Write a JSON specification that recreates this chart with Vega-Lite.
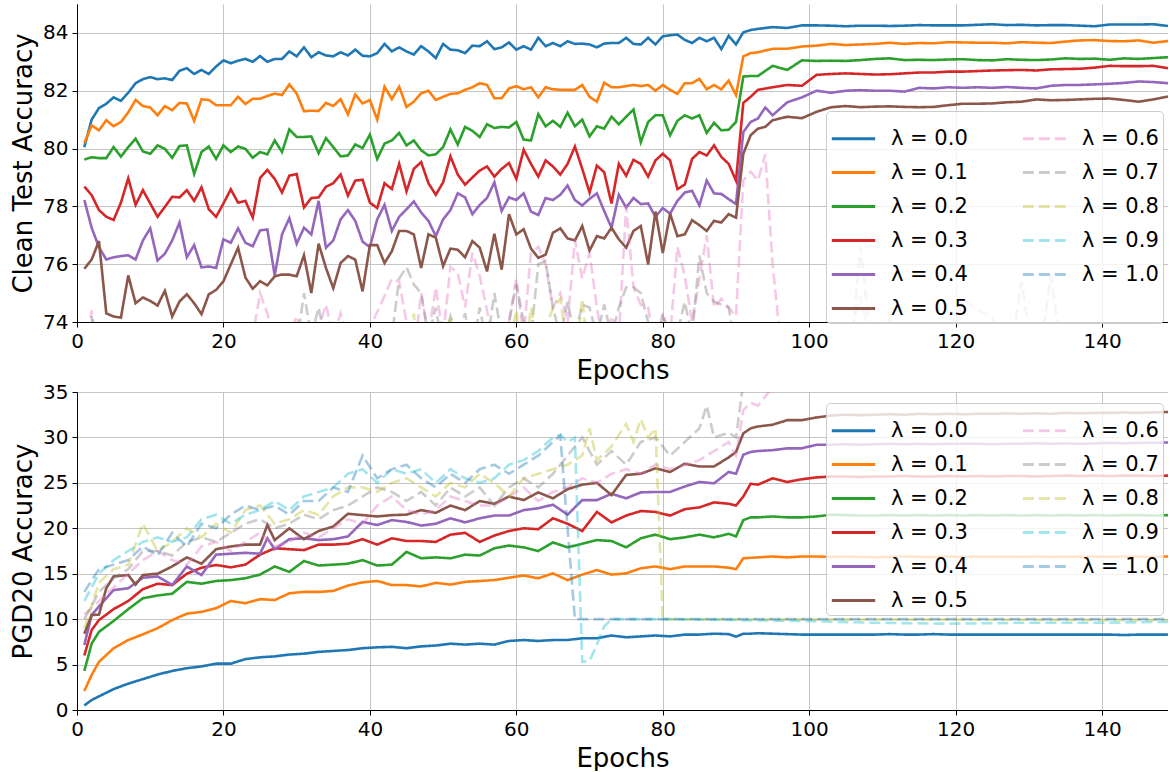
{
"$schema":"https://vega.github.io/schema/vega-lite/v6.json",
"padding":{"left":10,"top":4,"right":0,"bottom":0},
"spacing":70,
"bounds":"flush",
"config":{
"font":"DejaVu Sans",
"view":{"stroke":null},
"axis":{"labelFontSize":20,"titleFontSize":26,"titleFontWeight":"normal","labelColor":"#000","titleColor":"#000","domainColor":"#000","tickColor":"#000","tickSize":5,"domainWidth":1,"tickWidth":1,"gridColor":"#c4c4c4","gridWidth":1,"labelPadding":4,"titlePadding":6,"labelFlush":false},
"legend":{"orient":"none","columns":2,"symbolType":"stroke","symbolStrokeWidth":3,"symbolSize":1880,"labelFontSize":21,"labelColor":"#000","fillColor":"rgba(255,255,255,0.8)","strokeColor":"#cccccc","cornerRadius":4,"padding":4,"rowPadding":0,"columnPadding":48,"labelOffset":14,"labelLimit":300}
},
"datasets":{
"top":[
{"ep":1,"a":80.05,"b":80.19,"c":79.62,"d":78.68,"e":78.22,"f":75.84,"g":72.5,"h":72.5,"i":70},
{"ep":2,"a":81.0,"b":80.8,"c":79.7,"d":78.39,"e":77.26,"f":76.16,"g":74.4,"h":74.2},
{"ep":3,"a":81.4,"b":80.63,"c":79.67,"d":77.87,"e":76.59,"f":76.8,"g":72.5,"h":72},
{"ep":4,"a":81.55,"b":80.98,"c":79.67,"d":77.64,"e":76.16,"f":74.3},
{"ep":5,"a":81.77,"b":80.77,"c":80.05,"d":77.53,"e":76.24,"f":74.19,"g":72},
{"ep":6,"a":81.65,"b":80.92,"c":79.72,"d":78.13,"e":76.28,"f":74.15},
{"ep":7,"a":81.93,"b":81.25,"c":80.05,"d":78.97,"e":76.31,"f":75.61},
{"ep":8,"a":82.26,"b":81.68,"c":80.34,"d":78.05,"e":76.16,"f":74.65,"g":71.5,"h":71},
{"ep":9,"a":82.4,"b":81.47,"c":79.9,"d":78.56,"e":76.82,"f":74.85},
{"ep":10,"a":82.47,"b":81.42,"c":79.82,"d":78.1,"e":77.24,"f":74.73},
{"ep":11,"a":82.4,"b":81.15,"c":80.11,"d":77.64,"e":76.13,"f":74.57},
{"ep":12,"a":82.43,"b":81.47,"c":79.99,"d":77.98,"e":76.36,"f":75.08,"g":72},
{"ep":13,"a":82.37,"b":81.33,"c":79.68,"d":78.33,"e":76.82,"f":74.19},
{"ep":14,"a":82.69,"b":81.58,"c":80.09,"d":78.31,"e":77.44,"f":74.71},
{"ep":15,"a":82.78,"b":81.56,"c":80.11,"d":78.56,"e":76.24,"f":74.96,"h":72},
{"ep":16,"a":82.58,"b":80.96,"c":79.12,"d":78.19,"e":76.66,"f":74.65,"g":72.5},
{"ep":17,"a":82.72,"b":81.7,"c":79.88,"d":78.66,"e":75.89,"f":74.27},
{"ep":18,"a":82.58,"b":81.68,"c":80.07,"d":77.9,"e":75.92,"f":74.96},
{"ep":19,"a":82.84,"b":81.5,"c":79.64,"d":77.64,"e":75.87,"f":75.11},
{"ep":20,"a":83.05,"b":81.5,"c":80.11,"d":78.1,"e":76.86,"f":75.41,"g":72,"h":71.5},
{"ep":21,"a":82.95,"b":81.5,"c":79.88,"d":78.59,"e":76.74,"f":75.99},
{"ep":22,"a":83.04,"b":81.79,"c":80.07,"d":78.13,"e":77.24,"f":76.57},
{"ep":23,"a":83.1,"b":81.54,"c":79.99,"d":78.19,"e":76.74,"f":75.54,"g":73},
{"ep":24,"a":83.0,"b":81.72,"c":79.68,"d":77.61,"e":76.62,"f":75.15,"g":73.5},
{"ep":25,"a":83.2,"b":81.72,"c":79.88,"d":78.98,"e":77.17,"f":75.41,"g":75.0,"h":72},
{"ep":26,"a":83.0,"b":81.82,"c":79.8,"d":79.26,"e":77.2,"f":75.27,"g":74.3},
{"ep":27,"a":83.1,"b":81.9,"c":80.28,"d":78.95,"e":75.61,"f":75.58,"g":73.2},
{"ep":28,"a":83.1,"b":81.85,"c":79.88,"d":78.48,"e":77.03,"f":75.64},
{"ep":29,"a":83.36,"b":82.22,"c":80.66,"d":79.06,"e":77.59,"f":75.64,"g":73.5,"h":72.5},
{"ep":30,"a":83.19,"b":81.9,"c":80.4,"d":79.12,"e":76.71,"f":75.58,"g":74.2,"h":73.2,"i":70},
{"ep":31,"a":83.5,"b":81.29,"c":80.4,"d":77.96,"e":77.26,"f":76.31,"h":75.0},
{"ep":32,"a":83.16,"b":81.31,"c":80.42,"d":78.29,"e":77.03,"f":75.0,"g":72.5,"h":73.5},
{"ep":33,"a":83.33,"b":81.3,"c":79.84,"d":78.31,"e":78.19,"f":76.71,"g":73.8,"h":74.5},
{"ep":34,"a":83.22,"b":81.58,"c":80.36,"d":78.68,"e":76.57,"f":75.87,"g":74.6},
{"ep":35,"a":83.19,"b":81.47,"c":80.05,"d":78.8,"e":76.82,"f":75.17,"g":73.5,"h":72},
{"ep":36,"a":83.33,"b":81.71,"c":79.73,"d":79.1,"e":77.55,"f":76.04,"g":74.3},
{"ep":37,"a":83.22,"b":81.18,"c":79.76,"d":78.37,"e":77.87,"f":76.28},
{"ep":38,"a":83.42,"b":81.87,"c":80.14,"d":78.89,"e":77.5,"f":76.16,"g":72.5,"h":73},
{"ep":39,"a":83.21,"b":81.56,"c":80.02,"d":78.92,"e":76.78,"f":75.06},
{"ep":40,"a":83.19,"b":81.68,"c":80.48,"d":78.13,"e":76.59,"f":76.66,"g":73.8},
{"ep":41,"a":83.3,"b":81.0,"c":79.64,"d":77.94,"e":77.55,"f":76.66,"h":72.5},
{"ep":42,"a":83.62,"b":82.14,"c":80.17,"d":78.8,"e":78.05,"f":76.04,"g":74.9},
{"ep":43,"a":83.36,"b":81.71,"c":80.28,"d":78.6,"e":77.15,"f":76.45,"g":75.5,"h":73.5},
{"ep":44,"a":83.5,"b":82.14,"c":80.54,"d":79.47,"e":77.64,"f":77.15,"g":75.4,"h":75.5,"i":72},
{"ep":45,"a":83.36,"b":81.44,"c":80.11,"d":78.52,"e":77.9,"f":77.15,"g":74.0,"h":75.9,"i":72},
{"ep":46,"a":83.25,"b":81.62,"c":80.28,"d":79.3,"e":78.17,"f":77.03,"g":72.8,"h":75.3,"i":74.3},
{"ep":47,"a":83.54,"b":81.91,"c":79.94,"d":79.53,"e":77.79,"f":75.87,"g":75.0,"h":75.0,"i":72},
{"ep":48,"a":83.36,"b":82.0,"c":79.76,"d":78.8,"e":77.5,"f":77.03,"g":73.5,"h":73.5},
{"ep":49,"a":83.13,"b":81.68,"c":79.8,"d":78.4,"e":76.97,"f":76.92,"g":75.2,"h":74.5},
{"ep":50,"a":83.62,"b":81.79,"c":80.05,"d":78.83,"e":77.55,"f":75.93,"g":73.5,"h":73,"i":73},
{"ep":51,"a":83.42,"b":81.89,"c":80.66,"d":79.73,"e":77.87,"f":76.54,"g":75.9,"h":74.2,"i":74.2},
{"ep":52,"a":83.4,"b":81.91,"c":80.14,"d":79.1,"e":78.45,"f":76.5,"g":75.7,"h":73.5,"i":72.5},
{"ep":53,"a":83.3,"b":82.03,"c":80.75,"d":78.75,"e":78.31,"f":76.24,"g":74.5,"h":74.3},
{"ep":54,"a":83.56,"b":82.12,"c":80.61,"d":79.0,"e":77.73,"f":76.8,"g":76.4,"h":73},
{"ep":55,"a":83.54,"b":82.26,"c":80.4,"d":79.24,"e":78.05,"f":76.57,"g":75.6,"h":74.5},
{"ep":56,"a":83.71,"b":82.2,"c":80.84,"d":79.38,"e":78.29,"f":75.75,"g":74.4,"h":73.2,"i":72},
{"ep":57,"a":83.44,"b":81.74,"c":80.71,"d":79.03,"e":78.83,"f":77.05,"g":73.0,"h":75.0},
{"ep":58,"a":83.5,"b":81.74,"c":80.75,"d":79.3,"e":77.84,"f":75.81,"g":73.2,"h":73.5},
{"ep":59,"a":83.67,"b":82.08,"c":80.73,"d":79.5,"e":78.31,"f":77.73,"g":74.0,"h":74.0,"i":73},
{"ep":60,"a":83.42,"b":82.16,"c":80.92,"d":78.95,"e":78.22,"f":77.03,"g":75.5,"h":75.3,"i":74.4},
{"ep":61,"a":83.54,"b":82.05,"c":80.31,"d":79.96,"e":78.45,"f":77.21,"g":73.5,"h":74.0,"i":72.5},
{"ep":62,"a":83.42,"b":82.12,"c":80.28,"d":79.47,"e":77.82,"f":76.54,"g":76.4,"h":73.5,"i":74.5},
{"ep":63,"a":83.83,"b":81.77,"c":81.19,"d":79.03,"e":77.7,"f":76.22,"g":76.6,"h":76.0,"i":73},
{"ep":64,"a":83.54,"b":82.12,"c":80.77,"d":79.59,"e":78.29,"f":76.33,"g":76.0,"h":76.1},
{"ep":65,"a":83.65,"b":82.05,"c":80.96,"d":79.38,"e":78.22,"f":77.09,"g":74.5,"h":74.5,"i":74.5},
{"ep":66,"a":83.54,"b":82.03,"c":80.75,"d":79.1,"e":78.4,"f":77.24,"g":75.0,"h":73.5,"i":74.8},
{"ep":67,"a":83.71,"b":82.03,"c":81.24,"d":79.47,"e":78.72,"f":76.89,"g":74.0,"h":74.7,"i":73},
{"ep":68,"a":83.62,"b":82.03,"c":80.77,"d":80.07,"e":78.22,"f":76.82,"g":76.85,"h":73.5,"i":72.5},
{"ep":69,"a":83.63,"b":82.2,"c":81.0,"d":79.3,"e":78.03,"f":77.32,"g":75.5,"h":74.6,"i":74.8},
{"ep":70,"a":83.6,"b":81.79,"c":80.42,"d":78.48,"e":78.26,"f":76.47,"g":76.4,"h":74.5,"i":72.5},
{"ep":71,"a":83.5,"b":81.62,"c":80.77,"d":79.41,"e":78.45,"f":76.97,"g":74.5,"h":73.5},
{"ep":72,"a":83.63,"b":82.28,"c":80.69,"d":79.18,"e":77.84,"f":76.89,"g":73.0,"h":74.6},
{"ep":73,"a":83.65,"b":82.12,"c":81.1,"d":78.1,"e":77.26,"f":77.26,"g":74.2,"h":73.5},
{"ep":74,"a":83.65,"b":82.12,"c":80.84,"d":79.47,"e":78.4,"f":76.86,"g":73.5,"h":74.5},
{"ep":75,"a":83.83,"b":82.16,"c":81.1,"d":79.06,"e":77.96,"f":76.57,"g":78.0,"h":75.2,"i":70},
{"ep":76,"a":83.62,"b":82.2,"c":81.35,"d":79.61,"e":78.29,"f":77.15,"g":75.2,"h":75.2},
{"ep":77,"a":83.6,"b":82.16,"c":80.22,"d":79.47,"e":78.08,"f":77.32,"g":74.6,"h":75.0},
{"ep":78,"a":83.83,"b":82.2,"c":80.92,"d":79.03,"e":78.1,"f":75.99,"g":74.5,"h":74.0},
{"ep":79,"a":83.6,"b":82.0,"c":81.15,"d":79.59,"e":77.64,"f":77.82,"g":73.0,"h":73.0,"i":70},
{"ep":80,"a":83.88,"b":82.2,"c":81.15,"d":79.82,"e":77.94,"f":76.39,"g":74.2,"h":74.3,"i":10},
{"ep":81,"a":83.92,"b":82.03,"c":80.46,"d":79.59,"e":77.75,"f":77.75,"g":73.5,"h":73.5},
{"ep":82,"a":83.94,"b":81.89,"c":80.96,"d":78.6,"e":78.19,"f":76.97,"g":76.6,"h":73.6},
{"ep":83,"a":83.76,"b":82.26,"c":81.15,"d":78.75,"e":78.48,"f":77.03,"g":75.6,"h":74.7},
{"ep":84,"a":83.65,"b":82.26,"c":81.04,"d":79.64,"e":78.54,"f":77.52,"g":74.0,"h":73.5},
{"ep":85,"a":83.83,"b":82.41,"c":81.15,"d":79.88,"e":78.03,"f":77.35,"g":75.5,"h":76.3},
{"ep":86,"a":83.71,"b":82.05,"c":80.54,"d":79.76,"e":78.89,"f":77.15,"g":77.0,"h":75.0},
{"ep":87,"a":83.83,"b":82.2,"c":80.89,"d":80.11,"e":78.45,"f":77.5,"g":74.5,"h":74.7},
{"ep":88,"a":83.44,"b":82.05,"c":80.63,"d":79.71,"e":78.43,"f":77.44,"g":74.8,"h":74.6},
{"ep":89,"a":83.9,"b":82.35,"c":80.65,"d":79.47,"e":78.25,"f":77.73,"g":74.5,"h":74.5},
{"ep":90,"a":83.6,"b":81.85,"c":80.92,"d":78.89,"e":78.08,"f":77.61,"g":74.2,"h":73.0},
{"ep":91,"a":84.02,"b":83.19,"c":82.49,"d":81.58,"e":80.57,"f":79.82,"g":78.9,"h":72.0},
{"ep":92,"a":84.1,"b":83.3,"c":82.51,"d":81.79,"e":80.92,"f":80.46,"g":79.2},
{"ep":93,"a":84.14,"b":83.33,"c":82.51,"d":82.03,"e":81.04,"f":80.69,"g":78.9},
{"ep":94,"e":81.42,"f":80.75,"g":79.8},
{"ep":95,"a":84.2,"b":83.45,"c":82.86,"d":82.12,"e":81.15,"f":80.98,"g":76.0,"h":70},
{"ep":97,"a":84.17,"b":83.45,"c":82.72,"d":82.2,"e":81.6,"f":81.1,"g":71},
{"ep":99,"a":84.26,"b":83.53,"c":83.05,"d":82.17,"e":81.77,"f":81.05},
{"ep":101,"a":84.26,"b":83.56,"c":83.03,"d":82.55,"e":82.0,"f":81.27,"g":72,"h":70},
{"ep":103,"a":84.25,"b":83.62,"c":83.04,"d":82.58,"e":81.93,"f":81.43},
{"ep":105,"a":84.23,"b":83.58,"c":83.03,"d":82.6,"e":82.0,"f":81.47,"g":73,"h":71},
{"ep":107,"a":84.25,"b":83.6,"c":83.06,"d":82.58,"e":82.02,"f":81.43,"g":74.9,"h":76.6},
{"ep":109,"a":84.25,"b":83.62,"c":83.1,"d":82.56,"e":82.0,"f":81.45,"g":72.5,"h":72},
{"ep":111,"a":84.24,"b":83.66,"c":83.12,"d":82.57,"e":82.0,"f":81.46,"h":74.2},
{"ep":113,"a":84.25,"b":83.62,"c":83.06,"d":82.6,"e":81.97,"f":81.44,"g":72,"h":71},
{"ep":115,"a":84.27,"b":83.65,"c":83.07,"d":82.63,"e":82.1,"f":81.43},
{"ep":117,"a":84.26,"b":83.64,"c":83.06,"d":82.63,"e":82.08,"f":81.44},
{"ep":119,"a":84.26,"b":83.68,"c":83.08,"d":82.66,"e":82.12,"f":81.5,"g":72.5},
{"ep":121,"a":84.26,"b":83.67,"c":83.09,"d":82.66,"e":82.1,"f":81.55,"g":74.8,"h":70},
{"ep":123,"a":84.28,"b":83.66,"c":83.06,"d":82.68,"e":82.12,"f":81.55,"g":74.4},
{"ep":125,"a":84.3,"b":83.66,"c":83.05,"d":82.7,"e":82.1,"f":81.56,"g":74.2},
{"ep":127,"a":84.27,"b":83.64,"c":83.09,"d":82.71,"e":82.13,"f":81.6,"g":72.5,"h":72},
{"ep":129,"a":84.28,"b":83.68,"c":83.07,"d":82.72,"e":82.1,"f":81.62,"h":75.4},
{"ep":131,"a":84.26,"b":83.66,"c":83.06,"d":82.7,"e":82.08,"f":81.7,"h":72},
{"ep":133,"a":84.27,"b":83.65,"c":83.08,"d":82.74,"e":82.17,"f":81.67,"g":72,"h":75.6},
{"ep":135,"a":84.27,"b":83.7,"c":83.12,"d":82.75,"e":82.2,"f":81.68,"h":72},
{"ep":137,"a":84.25,"b":83.74,"c":83.1,"d":82.76,"e":82.2,"f":81.7},
{"ep":139,"a":84.23,"b":83.75,"c":83.11,"d":82.8,"e":82.22,"f":81.72},
{"ep":141,"a":84.29,"b":83.72,"c":83.07,"d":82.86,"e":82.24,"f":81.73,"g":72,"h":70},
{"ep":143,"a":84.29,"b":83.71,"c":83.12,"d":82.85,"e":82.27,"f":81.68},
{"ep":145,"a":84.29,"b":83.74,"c":83.1,"d":82.85,"e":82.32,"f":81.62},
{"ep":147,"a":84.3,"b":83.66,"c":83.13,"d":82.86,"e":82.3,"f":81.7},
{"ep":149,"a":84.24,"b":83.72,"c":83.16,"d":82.78,"e":82.26,"f":81.8,"g":72,"h":70,"i":10}
],
"bot":[
{"ep":1,"a":0.5,"b":2.1,"c":4.3,"d":6.0,"e":7.15,"f":8.4,"g":10.5,"h":10.0,"i":9.0,"j":12.0,"k":13.0},
{"ep":2,"a":1.1,"b":3.85,"c":7.3,"d":8.8,"e":10.45,"f":10.45},
{"ep":3,"a":1.5,"b":5.3,"c":8.6,"d":9.9,"e":11.4,"f":10.5,"g":12.0,"h":13.0,"i":14.0,"j":15.0,"k":15.5},
{"ep":4,"f":13.4},
{"ep":5,"a":2.3,"b":6.8,"c":9.8,"d":11.1,"e":13.2,"f":14.7,"g":13.5,"h":14.5,"i":15.5,"j":16.5,"k":16.0},
{"ep":7,"a":2.9,"b":7.7,"c":11.1,"d":12.0,"e":13.4,"f":14.86,"g":15.0,"h":15.5,"i":16.0,"j":17.5,"k":16.5},
{"ep":8,"f":13.8},
{"ep":9,"a":3.4,"b":8.33,"c":12.3,"d":13.3,"e":14.56,"f":14.86,"g":16.5,"h":17.5,"i":20.5,"j":18.5,"k":18.0},
{"ep":11,"a":3.9,"b":9.0,"c":12.6,"d":13.9,"e":14.7,"f":15.0,"g":17.5,"h":17.5,"i":17.5,"j":19.0,"k":17.0},
{"ep":13,"a":4.3,"b":9.9,"c":12.8,"d":13.75,"e":13.75,"f":15.8,"g":16.5,"h":17.0,"i":18.5,"j":18.5,"k":19.5},
{"ep":15,"a":4.6,"b":10.6,"c":14.1,"d":15.0,"e":15.8,"f":16.8,"g":16.0,"h":18.5,"i":20.0,"j":19.0,"k":18.0},
{"ep":17,"a":4.8,"b":10.8,"c":13.9,"d":15.66,"e":14.86,"f":16.1,"g":18.0,"h":19.0,"i":19.0,"j":21.0,"k":20.5},
{"ep":19,"a":5.1,"b":11.2,"c":14.2,"d":15.96,"e":17.1,"f":17.7,"g":18.5,"h":18.5,"i":20.5,"j":21.5,"k":20.0},
{"ep":21,"a":5.1,"b":12.0,"c":14.3,"d":15.7,"e":17.2,"f":18.0,"g":17.5,"h":19.5,"i":19.5,"j":20.5,"k":21.5},
{"ep":23,"a":5.6,"b":11.75,"c":14.5,"d":16.0,"e":17.3,"f":18.2,"g":18.5,"h":20.5,"i":22.0,"j":21.5,"k":22.5},
{"ep":25,"a":5.8,"b":12.2,"c":14.9,"d":17.1,"e":17.2,"f":18.2,"g":19.5,"h":21.0,"i":22.5,"j":22.0,"k":22.0},
{"ep":26,"f":20.36,"e":18.9},
{"ep":27,"a":5.9,"b":12.1,"c":15.8,"d":17.8,"e":17.7,"f":18.7,"g":18.0,"h":20.0,"i":20.5,"j":23.0,"k":22.5},
{"ep":29,"a":6.1,"b":12.85,"c":15.2,"d":17.7,"e":18.8,"f":20.0,"g":18.5,"h":20.5,"i":21.0,"j":22.0,"k":21.5},
{"ep":31,"a":6.2,"b":13.0,"c":16.4,"d":17.6,"e":18.9,"f":18.8,"g":19.5,"h":21.5,"i":22.0,"j":23.5,"k":23.0},
{"ep":33,"a":6.4,"b":13.0,"c":15.9,"d":18.2,"e":18.7,"f":19.7,"g":19.0,"h":21.0,"i":21.5,"j":24.0,"k":23.0},
{"ep":35,"a":6.5,"b":13.1,"c":16.0,"d":18.2,"e":18.8,"f":20.2,"g":20.0,"h":22.0,"i":23.5,"j":24.5,"k":24.5},
{"ep":37,"a":6.6,"b":13.7,"c":16.1,"d":18.3,"e":19.1,"f":21.6,"g":21.0,"h":22.5,"i":24.5,"j":26.0,"k":24.0},
{"ep":39,"a":6.8,"b":14.05,"c":16.5,"d":18.8,"e":20.7,"f":21.45,"g":20.5,"h":23.5,"i":24.5,"j":26.5,"k":28.0},
{"ep":41,"a":6.9,"b":14.2,"c":15.9,"d":18.2,"e":20.36,"f":21.3,"g":22.5,"h":24.5,"i":24.0,"j":25.0,"k":25.5},
{"ep":43,"a":6.95,"b":13.75,"c":16.0,"d":18.9,"e":20.9,"f":21.45,"g":23.5,"h":24.0,"i":25.0,"j":26.5,"k":26.5},
{"ep":45,"a":6.8,"b":13.75,"c":17.4,"d":18.6,"e":20.7,"f":21.5,"g":22.0,"h":23.0,"i":25.5,"j":26.0,"k":27.0},
{"ep":47,"a":7.0,"b":13.6,"c":16.7,"d":18.6,"e":20.3,"f":22.0,"g":21.5,"h":24.0,"i":24.5,"j":26.5,"k":25.5},
{"ep":49,"a":7.1,"b":14.0,"c":16.8,"d":18.5,"e":20.5,"f":21.7,"g":22.0,"h":22.5,"i":23.5,"j":25.0,"k":24.5},
{"ep":51,"a":7.3,"b":13.8,"c":16.7,"d":19.3,"e":21.1,"f":22.5,"g":23.5,"h":24.5,"i":25.0,"j":26.5,"k":26.0},
{"ep":53,"a":7.2,"b":14.1,"c":17.1,"d":19.5,"e":20.65,"f":22.0,"g":23.0,"h":23.5,"i":24.5,"j":25.5,"k":25.0},
{"ep":55,"a":7.3,"b":14.2,"c":17.0,"d":18.5,"e":21.1,"f":23.0,"g":22.5,"h":24.5,"i":26.0,"j":25.0,"k":26.5},
{"ep":57,"a":7.2,"b":14.3,"c":17.8,"d":19.2,"e":21.4,"f":22.7,"g":22.5,"h":22.5,"i":25.0,"j":25.5,"k":27.0},
{"ep":59,"a":7.6,"b":14.56,"c":18.1,"d":19.7,"e":21.4,"f":23.5,"g":23.5,"h":24.5,"i":23.5,"j":27.0,"k":26.0},
{"ep":61,"a":7.7,"b":14.8,"c":17.9,"d":20.0,"e":22.0,"f":23.1,"g":24.5,"h":25.5,"i":25.5,"j":27.5,"k":27.0},
{"ep":63,"a":7.6,"b":14.5,"c":17.5,"d":19.9,"e":22.2,"f":23.95,"g":23.0,"h":24.5,"i":26.0,"j":28.5,"k":28.0},
{"ep":65,"a":7.7,"b":15.04,"c":18.45,"d":21.1,"e":22.6,"f":23.3,"g":24.0,"h":26.0,"i":26.5,"j":30.0,"k":29.5},
{"ep":66,"j":30.3,"k":30.2},
{"ep":67,"a":7.7,"b":14.3,"c":17.9,"d":20.5,"e":21.5,"f":24.3,"g":24.5,"h":28.0,"i":27.0,"j":29.5,"k":20.0},
{"ep":68,"j":30.0,"k":10.0},
{"ep":69,"a":7.9,"b":14.9,"c":18.3,"d":19.7,"e":23.1,"f":24.8,"g":25.5,"h":30.0,"i":28.0,"j":5.3,"k":10.0},
{"ep":70,"i":31.0,"j":5.4},
{"ep":71,"a":7.9,"b":15.4,"c":18.7,"d":21.8,"e":23.1,"f":25.0,"g":25.0,"h":27.0,"i":27.5,"j":7.2,"k":10.0},
{"ep":72,"j":9.2},
{"ep":73,"a":8.2,"b":14.9,"c":18.6,"d":20.65,"e":23.8,"f":23.66,"g":26.0,"h":28.5,"i":29.0,"j":10.0,"k":10.0},
{"ep":75,"a":8.0,"b":15.04,"c":17.9,"d":21.4,"e":23.3,"f":25.87,"g":26.5,"h":27.0,"i":31.5,"j":10.0,"k":10.0},
{"ep":76,"i":29.5},
{"ep":77,"a":8.1,"b":15.6,"c":18.9,"d":21.9,"e":23.95,"f":26.0,"g":26.0,"h":29.5,"i":32.0,"j":10.0,"k":10.0},
{"ep":78,"i":30.0},
{"ep":79,"a":8.2,"b":15.8,"c":19.3,"d":21.8,"e":24.0,"f":26.6,"g":27.0,"h":30.0,"i":31.0,"j":10.0,"k":10.0},
{"ep":80,"i":10.0},
{"ep":81,"a":8.1,"b":15.5,"c":18.8,"d":21.4,"e":24.0,"f":26.2,"g":26.5,"h":28.0,"j":10.0,"k":10.0},
{"ep":83,"a":8.3,"b":15.8,"c":19.0,"d":22.1,"e":24.6,"f":27.1,"g":27.0,"h":29.5},
{"ep":85,"a":8.3,"b":15.8,"c":19.3,"d":22.3,"e":25.1,"f":26.8,"g":27.5,"h":31.0},
{"ep":86,"h":33.5},
{"ep":87,"a":8.4,"b":15.8,"c":19.0,"d":22.85,"e":24.95,"f":26.8,"g":28.5,"h":30.0},
{"ep":89,"a":8.35,"b":15.66,"c":19.4,"d":22.7,"e":26.2,"f":27.8,"g":29.5,"h":30.5,"j":9.9},
{"ep":90,"a":8.07,"b":15.5,"c":19.1,"d":22.5,"e":26.0,"f":28.4,"g":28.0,"h":30.0},
{"ep":91,"a":8.4,"b":16.7,"c":20.9,"d":23.5,"e":28.1,"f":30.45,"g":33.0,"h":36.0,"k":10.0},
{"ep":92,"a":8.4,"b":16.75,"c":21.2,"d":24.9,"e":28.4,"f":31.0,"g":33.8},
{"ep":93,"a":8.45,"b":16.8,"c":21.2,"d":24.8,"e":28.5,"f":31.2,"g":33.5},
{"ep":94,"g":34.5},
{"ep":95,"a":8.4,"b":16.9,"c":21.3,"d":25.5,"e":28.6,"f":31.4,"g":35.5},
{"ep":97,"a":8.35,"b":16.8,"c":21.2,"d":25.1,"e":28.8,"f":31.9,"g":36.5},
{"ep":99,"a":8.3,"b":16.9,"c":21.2,"d":25.4,"e":28.8,"f":31.9,"g":37,"j":9.8},
{"ep":101,"a":8.3,"b":16.9,"c":21.3,"d":25.6,"e":29.2,"f":32.2},
{"ep":103,"a":8.3,"b":16.85,"c":21.5,"d":25.7,"e":29.2,"f":32.4},
{"ep":105,"a":8.3,"b":16.9,"c":21.45,"d":25.7,"e":29.25,"f":32.5},
{"ep":107,"a":8.3,"b":16.85,"c":21.4,"d":25.65,"e":29.2,"f":32.45},
{"ep":109,"a":8.3,"b":16.8,"c":21.4,"d":25.7,"e":29.25,"f":32.5,"j":9.6},
{"ep":111,"a":8.35,"b":16.85,"c":21.45,"d":25.7,"e":29.3,"f":32.55},
{"ep":113,"a":8.3,"b":16.9,"c":21.4,"d":25.75,"e":29.25,"f":32.5},
{"ep":115,"a":8.3,"b":16.85,"c":21.45,"d":25.7,"e":29.3,"f":32.6},
{"ep":117,"a":8.35,"b":16.85,"c":21.4,"d":25.7,"e":29.25,"f":32.55},
{"ep":119,"a":8.3,"b":16.9,"c":21.45,"d":25.75,"e":29.3,"f":32.6,"j":9.5},
{"ep":121,"a":8.3,"b":16.85,"c":21.4,"d":25.7,"e":29.3,"f":32.55},
{"ep":123,"a":8.3,"b":16.9,"c":21.45,"d":25.75,"e":29.3,"f":32.6},
{"ep":125,"a":8.3,"b":16.85,"c":21.4,"d":25.7,"e":29.25,"f":32.6},
{"ep":127,"a":8.3,"b":16.9,"c":21.45,"d":25.75,"e":29.3,"f":32.65},
{"ep":129,"a":8.3,"b":16.85,"c":21.4,"d":25.75,"e":29.3,"f":32.6,"j":9.6},
{"ep":131,"a":8.3,"b":16.9,"c":21.45,"d":25.7,"e":29.35,"f":32.65},
{"ep":133,"a":8.3,"b":16.85,"c":21.4,"d":25.75,"e":29.3,"f":32.6},
{"ep":135,"a":8.3,"b":16.9,"c":21.45,"d":25.8,"e":29.35,"f":32.7},
{"ep":137,"a":8.3,"b":16.85,"c":21.4,"d":25.75,"e":29.3,"f":32.65},
{"ep":139,"a":8.3,"b":16.9,"c":21.45,"d":25.8,"e":29.35,"f":32.7,"j":9.6},
{"ep":141,"a":8.3,"b":16.85,"c":21.4,"d":25.75,"e":29.4,"f":32.7},
{"ep":143,"a":8.25,"b":16.9,"c":21.45,"d":25.8,"e":29.35,"f":32.75},
{"ep":145,"a":8.3,"b":16.9,"c":21.45,"d":25.8,"e":29.4,"f":32.7},
{"ep":147,"a":8.3,"b":16.85,"c":21.4,"d":25.75,"e":29.4,"f":32.75},
{"ep":149,"a":8.3,"b":16.9,"c":21.45,"d":25.8,"e":29.45,"f":32.8,"i":9.9,"j":9.7,"k":10.0}
]
},
"vconcat":[
{
"data":{"name":"top"},
"width":1091,"height":318,
"transform":[{"fold":["a","b","c","d","e","f","g","h","i"],"as":["s","y"]},{"filter":"isValid(datum.y)"}],
"mark":{"type":"line","clip":true,"strokeWidth":2.6},
"encoding":{
"x":{"field":"ep","type":"quantitative","scale":{"domain":[0,149],"nice":false,"zero":false},"axis":{"title":"Epochs","values":[0,20,40,60,80,100,120,140],"format":"d"}},
"y":{"field":"y","type":"quantitative","scale":{"domain":[74,85],"nice":false,"zero":false},"axis":{"title":"Clean Test Accuracy","values":[74,76,78,80,82,84],"format":"d"}},
"color":{"field":"s","type":"nominal","title":null,"scale":{"domain":["a","b","c","d","e","f","g","h","i","j","k"],"range":["#1f77b4","#ff7f0e","#2ca02c","#d62728","#9467bd","#8c564b","rgba(227,119,194,0.4)","rgba(127,127,127,0.4)","rgba(188,189,34,0.4)","rgba(23,190,207,0.4)","rgba(31,119,180,0.4)"]},"legend":{"legendX":749,"legendY":107,"labelExpr":"'λ = ' + format(indexof('abcdefghijk', datum.label) / 10, '.1f')"}},
"strokeDash":{"field":"s","type":"nominal","title":null,"scale":{"domain":["a","b","c","d","e","f","g","h","i","j","k"],"range":[[1,0],[1,0],[1,0],[1,0],[1,0],[1,0],[11,5],[11,5],[11,5],[11,5],[11,5]]}}
}
},
{
"data":{"name":"bot"},
"width":1091,"height":318,
"transform":[{"fold":["a","b","c","d","e","f","g","h","i","j","k"],"as":["s","y"]},{"filter":"isValid(datum.y)"}],
"mark":{"type":"line","clip":true,"strokeWidth":2.6},
"encoding":{
"x":{"field":"ep","type":"quantitative","scale":{"domain":[0,149],"nice":false,"zero":false},"axis":{"title":"Epochs","values":[0,20,40,60,80,100,120,140],"format":"d"}},
"y":{"field":"y","type":"quantitative","scale":{"domain":[0,35],"nice":false,"zero":false},"axis":{"title":"PGD20 Accuracy","values":[0,5,10,15,20,25,30,35],"format":"d"}},
"color":{"field":"s","type":"nominal","title":null,"scale":{"domain":["a","b","c","d","e","f","g","h","i","j","k"],"range":["#1f77b4","#ff7f0e","#2ca02c","#d62728","#9467bd","#8c564b","rgba(227,119,194,0.4)","rgba(127,127,127,0.4)","rgba(188,189,34,0.4)","rgba(23,190,207,0.4)","rgba(31,119,180,0.4)"]},"legend":{"legendX":749,"legendY":11,"labelExpr":"'λ = ' + format(indexof('abcdefghijk', datum.label) / 10, '.1f')"}},
"strokeDash":{"field":"s","type":"nominal","title":null,"scale":{"domain":["a","b","c","d","e","f","g","h","i","j","k"],"range":[[1,0],[1,0],[1,0],[1,0],[1,0],[1,0],[11,5],[11,5],[11,5],[11,5],[11,5]]}}
}
}
],
"resolve":{"scale":{"color":"independent","strokeDash":"independent"},"legend":{"color":"independent","strokeDash":"independent"}}
}
